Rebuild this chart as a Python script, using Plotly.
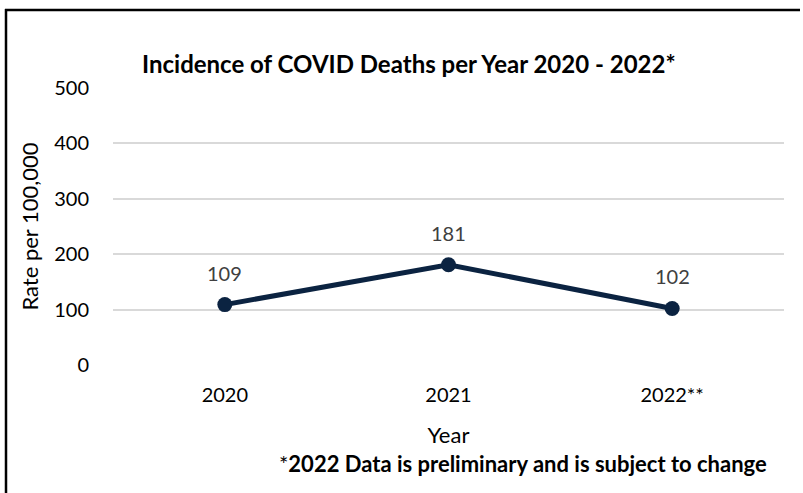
import plotly.graph_objects as go

years = ["2020", "2021", "2022**"]
rates = [109, 181, 102]
y_ticks = [0, 100, 200, 300, 400, 500]

FONT = "Lato, Calibri, Carlito, sans-serif"
W, H = 803, 493
L, R, T, B = 113, 19, 88, 128
pw, ph = W - L - R, H - T - B

def px(x):
    return (x - L) / pw

def py(y):
    return (H - B - y) / ph

fig = go.Figure()
fig.add_trace(go.Scatter(
    x=years, y=rates, mode="lines+markers",
    line=dict(color="#0b2341", width=5),
    marker=dict(color="#0b2341", size=15),
    hoverinfo="skip", showlegend=False,
))

for i, v in enumerate(rates):
    fig.add_annotation(x=i, y=v, text=str(v), showarrow=False, yshift=32,
                       font=dict(family=FONT, size=20, color="#404040"))

fig.add_annotation(xref="paper", yref="paper", x=px(409), y=py(47),
                   text="<b>Incidence of COVID Deaths per Year 2020 - 2022*</b>",
                   showarrow=False, font=dict(family=FONT, size=24, color="#000000"))
fig.add_annotation(xref="paper", yref="paper", x=px(769), y=py(479), xanchor="right",
                   text="*<b>2022 Data is preliminary and is subject to change</b>",
                   showarrow=False, font=dict(family=FONT, size=22, color="#000000"))

# chart-area border (top and left edges visible)
fig.add_shape(type="line", xref="paper", yref="paper",
              x0=px(5), x1=px(800), y0=py(10), y1=py(10),
              line=dict(color="#000000", width=2.5), layer="above")
fig.add_shape(type="line", xref="paper", yref="paper",
              x0=px(6), x1=px(6), y0=py(9), y1=py(500),
              line=dict(color="#000000", width=2.5), layer="above")

fig.update_layout(
    width=W, height=H,
    margin=dict(l=L, r=R, t=T, b=B),
    paper_bgcolor="white", plot_bgcolor="white",
    font=dict(family=FONT, size=20, color="#000000"),
    xaxis=dict(type="category", range=[-0.5, 2.5], showgrid=False, showline=False,
               zeroline=False, automargin=False,
               ticks="", tickfont=dict(size=20, color="#000000"), ticklabelstandoff=16,
               title=dict(text="Year", font=dict(size=22), standoff=22)),
    yaxis=dict(range=[0, 500], tickvals=y_ticks, showgrid=True, gridcolor="#d9d9d9",
               gridwidth=2, zeroline=False, showline=False, ticks="", automargin=False,
               tickfont=dict(size=20, color="#000000"), ticklabelstandoff=23,
               title=dict(text="Rate per 100,000", font=dict(size=22), standoff=9)),
)

fig.write_html("out.html", config={"displayModeBar": False},
               post_script="document.body.style.margin='0';")
